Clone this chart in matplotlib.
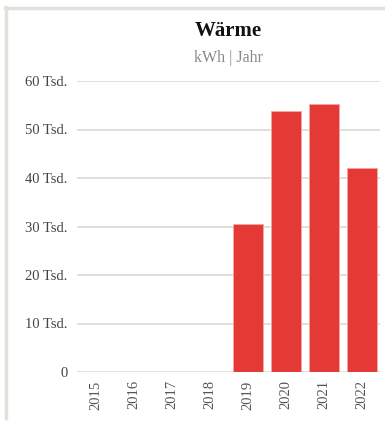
import matplotlib
matplotlib.use("Agg")
import matplotlib.pyplot as plt
from matplotlib.lines import Line2D
import numpy as np

years = ["2015", "2016", "2017", "2018", "2019", "2020", "2021", "2022"]
values = [0, 0, 0, 0, 30500, 53800, 55200, 42100]
yticks = [0, 10000, 20000, 30000, 40000, 50000, 60000]
ytick_labels = ["0", "10 Tsd.", "20 Tsd.", "30 Tsd.", "40 Tsd.", "50 Tsd.", "60 Tsd."]

plt.rcParams["font.family"] = ["Liberation Serif", "DejaVu Serif"]

fig = plt.figure(figsize=(3.85, 4.21), dpi=100)
W, H = 385, 421

# card frame (left and top edge)
border = "#e3e1dc"
fig.add_artist(Line2D([6 / W, 6 / W], [3 / H, 1 - 7 / H], transform=fig.transFigure, color=border, lw=2.5))
fig.add_artist(Line2D([5 / W, 1], [1 - 8 / H, 1 - 8 / H], transform=fig.transFigure, color=border, lw=2.5))

ax = fig.add_axes([77 / W, 49 / H, 303 / W, 291 / H])
x = np.arange(len(years))
ax.bar(x, values, width=0.79, color="#e53935", edgecolor="#f3a9a7", linewidth=0.6, zorder=3)

ax.set_ylim(0, 60000)
ax.set_xlim(-0.5, 7.47)
ax.set_yticks(yticks)
ax.set_yticklabels(ytick_labels)
ax.set_xticks(x)
ax.set_xticklabels(years, rotation=90)
ax.tick_params(axis="y", length=0, pad=7, labelsize=10.5, labelcolor="#444444")
ax.tick_params(axis="x", length=0, pad=6, labelsize=10.5, labelcolor="#555555")
ax.grid(axis="y", color="#dedad0", lw=1.2, zorder=0)
for s in ax.spines.values():
    s.set_visible(False)

fig.text((77 + 303 / 2) / W, 1 - 31 / H, "Wärme", ha="center", va="center",
         fontsize=15, fontweight="bold", color="#111111")
fig.text((77 + 303 / 2) / W, 1 - 58 / H, "kWh | Jahr", ha="center", va="center",
         fontsize=11.5, color="#888888")

fig.savefig("out.png", dpi=100)
